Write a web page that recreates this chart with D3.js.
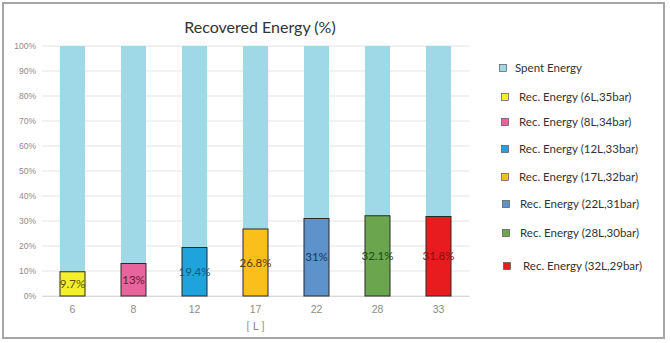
<!DOCTYPE html>
<html>
<head>
<meta charset="utf-8">
<script src="https://cdn.jsdelivr.net/npm/d3@7/dist/d3.min.js"></script>
<style>
  html, body { margin: 0; padding: 0; background: #fff; }
  svg { display: block; font-family: Lato, "Open Sans", sans-serif; }
</style>
</head>
<body>
<svg id="chart" width="670" height="343"></svg>
<script>
// Tank volume categories (litres) on the x axis
const categories = ["6", "8", "12", "17", "22", "28", "33"];
// Recovered energy share per configuration (%)
const recovered = [9.7, 13, 19.4, 26.8, 31, 32.1, 31.8];
// Fill colours of the recovered segments and darker text tones for their labels
const recColors = ["#f3ef2a", "#e8649c", "#1ea3dc", "#fbbf1c", "#5d92cb", "#6ba64e", "#e81c1f"];
const labelColors = ["#5a5200", "#6a1540", "#17557a", "#5a3c00", "#1a3566", "#214a14", "#8a1010"];
const spentColor = "#9fd8e6";
// Legend entries
const legendLabels = [
  "Spent Energy",
  "Rec. Energy (6L,35bar)",
  "Rec. Energy (8L,34bar)",
  "Rec. Energy (12L,33bar)",
  "Rec. Energy (17L,32bar)",
  "Rec. Energy (22L,31bar)",
  "Rec. Energy (28L,30bar)",
  "Rec. Energy (32L,29bar)"
];
const yTicks = [0, 10, 20, 30, 40, 50, 60, 70, 80, 90, 100];

const svg = d3.select("#chart");

// outer frame
svg.append("rect")
  .attr("x", 3).attr("y", 3).attr("width", 661).attr("height", 335)
  .attr("fill", "#fff").attr("stroke", "#a6a6a6").attr("stroke-width", 2);

const plot = { left: 42, right: 469, top: 46, bottom: 296 };

const x = d3.scaleBand().domain(categories)
  .range([plot.left, plot.right]).paddingInner(0.59).paddingOuter(0.295);
const y = d3.scaleLinear().domain([0, 100]).range([plot.bottom, plot.top]);

// horizontal gridlines
svg.append("g").selectAll("line").data(yTicks).join("line")
  .attr("x1", plot.left).attr("x2", plot.right)
  .attr("y1", d => y(d)).attr("y2", d => y(d))
  .attr("stroke", "#e3e3e3").attr("stroke-width", 1);

// y axis labels
const yAxis = d3.axisLeft(y).tickValues(yTicks).tickSize(0).tickPadding(6)
  .tickFormat(d => d + "%");
svg.append("g").attr("transform", `translate(${plot.left},0)`).call(yAxis)
  .call(g => g.select(".domain").remove())
  .call(g => g.selectAll("text").attr("fill", "#8c8c8c").attr("font-size", 8.5));

// x axis labels
const xAxis = d3.axisBottom(x).tickSize(0).tickPadding(10);
svg.append("g").attr("transform", `translate(0,${plot.bottom})`).call(xAxis)
  .call(g => g.select(".domain").attr("stroke", "#d9d9d9"))
  .call(g => g.selectAll("text").attr("fill", "#8c8c8c").attr("font-size", 10.5));

const rows = categories.map((c, i) => ({ c, rec: recovered[i], spent: 100 - recovered[i], i }));

// spent energy segment stacked on top
svg.append("g").selectAll("rect").data(rows).join("rect")
  .attr("x", d => x(d.c)).attr("width", x.bandwidth())
  .attr("y", y(100)).attr("height", d => y(d.rec) - y(100))
  .attr("fill", spentColor);

// recovered energy segment
svg.append("g").selectAll("rect").data(rows).join("rect")
  .attr("x", d => x(d.c)).attr("width", x.bandwidth())
  .attr("y", d => y(d.rec)).attr("height", d => y(0) - y(d.rec))
  .attr("fill", d => recColors[d.i])
  .attr("stroke", "#2a2a2a").attr("stroke-width", 1);

// value labels
svg.append("g").selectAll("text").data(rows).join("text")
  .attr("x", d => x(d.c) + x.bandwidth() / 2)
  .attr("y", d => (y(d.rec) + y(0)) / 2)
  .attr("dy", "0.35em")
  .attr("text-anchor", "middle")
  .attr("font-size", 11.5)
  .attr("fill", d => labelColors[d.i])
  .text(d => d.rec + "%");

// title
svg.append("text")
  .attr("x", 260).attr("y", 33).attr("text-anchor", "middle")
  .attr("font-size", 16).attr("fill", "#333")
  .text("Recovered Energy (%)");

// x axis title
svg.append("text")
  .attr("x", (plot.left + plot.right) / 2).attr("y", 330).attr("text-anchor", "middle")
  .attr("font-size", 11.5).attr("fill", "#8c8c8c")
  .text("[ L ]");

// legend
const legendY = [68, 97, 122, 149, 177, 204, 233, 266];
const legendX = [503, 505, 505, 505, 505, 506, 506, 507];
const legendColors = [spentColor].concat(recColors);
const lg = svg.append("g");
legendLabels.forEach((t, i) => {
  lg.append("rect")
    .attr("x", legendX[i] - 3.5).attr("y", legendY[i] - 3.5)
    .attr("width", 7).attr("height", 7)
    .attr("fill", legendColors[i]).attr("stroke", "#555").attr("stroke-width", 0.7);
  lg.append("text")
    .attr("x", legendX[i] + 12 + (i === 0 ? 0 : 2) + (i === 7 ? 2 : 0))
    .attr("y", legendY[i]).attr("dy", "0.35em")
    .attr("font-size", 11.5).attr("fill", "#333")
    .text(t);
});
</script>
</body>
</html>
